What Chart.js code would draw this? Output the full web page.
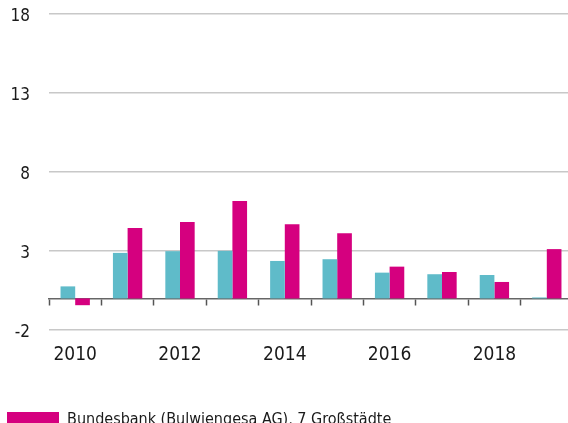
<!DOCTYPE html>
<html>
<head>
<meta charset="utf-8">
<script src="https://cdn.jsdelivr.net/npm/chart.js@4"></script>
<style>
  html, body { margin: 0; padding: 0; background: #fff; overflow: hidden; }
  #wrap { width: 574px; height: 461px; }
</style>
</head>
<body>
<div id="wrap"><canvas id="preisChart"></canvas></div>
<script>
const jahre = ['2010', '2011', '2012', '2013', '2014', '2015', '2016', '2017', '2018', '2019'];
const vdpWerte = [0.76, 2.88, 2.99, 3.01, 2.37, 2.48, 1.63, 1.53, 1.48, 0.06];
const bundesbankWerte = [-0.43, 4.45, 4.83, 6.17, 4.70, 4.13, 2.01, 1.67, 1.04, 3.12];
const yTicks = [-2, 3, 8, 13, 18];

const schrift = "'DejaVu Sans Condensed', 'DejaVu Sans', sans-serif";

const ctx = document.getElementById('preisChart').getContext('2d');
new Chart(ctx, {
    type: 'bar',
    data: {
        labels: jahre,
        datasets: [
            {
                label: 'vdp, Wohnimmobilienpreisindex',
                data: vdpWerte,
                backgroundColor: '#5fbbc9',
                categoryPercentage: 0.56,
                barPercentage: 1.0
            },
            {
                label: 'Bundesbank (Bulwiengesa AG), 7 Großstädte',
                data: bundesbankWerte,
                backgroundColor: '#d5007f',
                categoryPercentage: 0.56,
                barPercentage: 1.0
            }
        ]
    },
    options: {
        responsive: true,
        maintainAspectRatio: false,
        animation: false,
        layout: { padding: { top: 14, right: 1, left: 0, bottom: 0 } },
        scales: {
            x: {
                offset: true,
                afterFit: (s) => { s.height = 75; },
                grid: { display: false, drawTicks: false },
                border: { display: false },
                ticks: {
                    autoSkip: false,
                    maxRotation: 0,
                    padding: 14,
                    color: '#1a1a1a',
                    font: { family: schrift, size: 19 },
                    callback: function (val, i) { return i % 2 === 0 ? this.getLabelForValue(val) : ''; }
                }
            },
            nulllinie: {
                type: 'category',
                axis: 'x',
                position: { y: 0 },
                offset: true,
                grid: { offset: true, drawOnChartArea: false, drawTicks: true, tickLength: 6, tickColor: '#555', tickWidth: 1.5 },
                border: { display: true, color: '#666', width: 1.5 },
                ticks: { display: false }
            },
            y: {
                min: -2,
                max: 18,
                afterFit: (s) => { s.width = 49; s.paddingTop = 0; s.paddingBottom = 0; },
                afterBuildTicks: (s) => { s.ticks = yTicks.map(v => ({ value: v })); },
                grid: { color: '#c8c8c8', lineWidth: 1.5, drawTicks: false },
                border: { display: false },
                ticks: {
                    padding: 19,
                    labelOffset: 3,
                    color: '#1a1a1a',
                    font: { family: schrift, size: 17 }
                }
            }
        },
        plugins: {
            legend: {
                position: 'bottom',
                align: 'start',
                reverse: true,
                labels: {
                    boxWidth: 52,
                    boxHeight: 16,
                    padding: 7,
                    color: '#1a1a1a',
                    font: { family: schrift, size: 16 }
                }
            },
            tooltip: { enabled: false }
        }
    }
});
</script>
</body>
</html>
